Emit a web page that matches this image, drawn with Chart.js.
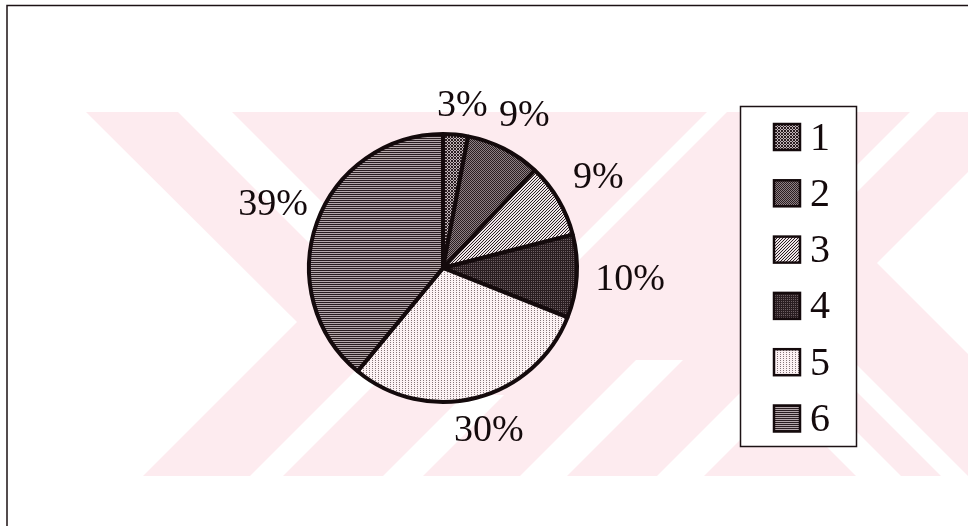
<!DOCTYPE html>
<html><head><meta charset="utf-8">
<script src="https://cdn.jsdelivr.net/npm/chart.js@4/dist/chart.umd.min.js"></script>
<style>html,body{margin:0;padding:0;background:#fff;}#wrap{position:relative;width:968px;height:526px;}</style>
</head><body><div id="wrap"><canvas id="c" width="968" height="526"></canvas></div>
<script>
// ---- data ----
const categories = ['1', '2', '3', '4', '5', '6'];
const shares = [3, 9, 9, 10, 30, 39];
const percentLabels = ['3%', '9%', '9%', '10%', '30%', '39%'];

const FONT = '"Liberation Serif", "Times New Roman", serif';
const INK = '#140a0c';

// ---- fill patterns (scanned greyscale hatches) ----
function makePattern(kind) {
  const s = 6;
  const c = document.createElement('canvas');
  c.width = s; c.height = s;
  const g = c.getContext('2d');
  const bgMap = {1: '#c2b6ba', 2: '#8e8185', 3: '#eee5e8', 4: '#6e6064', 5: '#fcf2f4', 6: '#b4a8ab'};
  g.fillStyle = bgMap[kind];
  g.fillRect(0, 0, s, s);
  for (let x = 0; x < s; x++) {
    for (let y = 0; y < s; y++) {
      let on = false, col = '#2a1e21';
      if (kind === 1) on = ((x + y) % 3 === 0) || ((x - y + 6) % 3 === 0);
      if (kind === 2) on = ((x + y) % 2 === 0);
      if (kind === 3) on = ((x + y) % 3 === 0);
      if (kind === 4) on = (x % 2 === 0) || (y % 2 === 0);
      if (kind === 5) { on = (x % 3 === 0) && (y % 2 === 0); col = '#857679'; }
      if (kind === 6) on = (y % 2 === 0);
      if (on) { g.fillStyle = col; g.fillRect(x, y, 1, 1); }
    }
  }
  return document.getElementById('c').getContext('2d').createPattern(c, 'repeat');
}
const fills = categories.map((_, i) => makePattern(i + 1));

// ---- background: frame + faint watermark ----
const backdrop = {
  id: 'backdrop',
  beforeDraw(chart) {
    const g = chart.ctx;
    g.save();
    g.fillStyle = '#fff';
    g.fillRect(0, 0, chart.width, chart.height);
    const top = 112, bot = 476, left = 86, right = 968;
    g.beginPath(); g.rect(left, top, right - left, bot - top); g.clip();
    g.fillStyle = '#fdebef';
    g.fillRect(left, top, right - left, bot - top);
    g.fillStyle = '#ffffff';
    // left notch
    g.beginPath(); g.moveTo(left, top); g.lineTo(297, 322); g.lineTo(143, bot); g.lineTo(left, bot); g.closePath(); g.fill();
    // right notch
    g.beginPath(); g.moveTo(right, 172); g.lineTo(877, 263); g.lineTo(right, 354); g.closePath(); g.fill();
    // "/" stripes: x + y between c1 and c2, from y0 down to y1
    [[726, 759, 330, bot], [859, 899, 395, bot], [996, 1043, 360, bot], [1133, 1180, 380, bot],
     [819, 839, top, 262], [1022, 1049, top, 200]].forEach(([c1, c2, y0, y1]) => {
      g.beginPath();
      g.moveTo(c1 - y1, y1); g.lineTo(c2 - y1, y1); g.lineTo(c2 - y0, y0); g.lineTo(c1 - y0, y0); g.closePath(); g.fill();
    });
    // "\" stripes: x - y between c1 and c2
    [[66, 120, top, 300], [380, 425, 380, bot], [465, 492, 330, bot]].forEach(([c1, c2, y0, y1]) => {
      g.beginPath();
      g.moveTo(c1 + y0, y0); g.lineTo(c2 + y0, y0); g.lineTo(c2 + y1, y1); g.lineTo(c1 + y1, y1); g.closePath(); g.fill();
    });
    g.restore();
    // frame (top & left edges visible)
    g.save();
    g.strokeStyle = '#1c1214';
    g.lineWidth = 1.5;
    g.beginPath(); g.moveTo(7, 540); g.lineTo(7, 5.5); g.lineTo(980, 5.5); g.stroke();
    g.restore();
  }
};

// ---- percentage labels outside the slices ----
const pctLabels = {
  id: 'pctLabels',
  afterDatasetsDraw(chart) {
    const g = chart.ctx;
    const arcs = chart.getDatasetMeta(0).data;
    g.save();
    g.font = '38px ' + FONT;
    g.fillStyle = INK;
    g.textAlign = 'center';
    g.textBaseline = 'middle';
    arcs.forEach((arc, i) => {
      const p = arc.getProps(['x', 'y', 'startAngle', 'endAngle', 'outerRadius'], true);
      const mid = (p.startAngle + p.endAngle) / 2;
      const txt = percentLabels[i];
      const hw = g.measureText(txt).width / 2, hh = 12;
      const d = p.outerRadius + 14 + Math.abs(Math.cos(mid)) * hw + Math.abs(Math.sin(mid)) * hh;
      g.fillText(txt, p.x + Math.cos(mid) * d + 4, p.y + Math.sin(mid) * d);
    });
    g.restore();
  }
};

// ---- boxed legend ----
const boxLegend = {
  id: 'boxLegend',
  afterDraw(chart) {
    const g = chart.ctx;
    const ds = chart.data.datasets[0];
    const bx = 740, by = 106, bw = 116, bh = 340;
    g.save();
    g.fillStyle = '#fff';
    g.fillRect(bx, by, bw, bh);
    g.strokeStyle = '#1c1214';
    g.lineWidth = 1.5;
    g.strokeRect(bx + 0.5, by + 0.5, bw, bh);
    g.font = '40px ' + FONT;
    g.textBaseline = 'middle';
    g.textAlign = 'left';
    chart.data.labels.forEach((lab, i) => {
      const cy = 137 + i * 56.3;
      const m = 26;
      g.fillStyle = ds.backgroundColor[i];
      g.fillRect(774, cy - m / 2, m, m);
      g.strokeStyle = INK; g.lineWidth = 2.5;
      g.strokeRect(774, cy - m / 2, m, m);
      g.fillStyle = INK;
      g.fillText(lab, 810, cy + 2);
    });
    g.restore();
  }
};

new Chart(document.getElementById('c'), {
  type: 'pie',
  data: {
    labels: categories,
    datasets: [{
      data: shares,
      backgroundColor: fills,
      borderColor: INK,
      borderWidth: 4
    }]
  },
  options: {
    responsive: false,
    devicePixelRatio: 1,
    animation: false,
    layout: { padding: { left: 307, right: 389, top: 132, bottom: 122 } },
    plugins: { legend: { display: false }, tooltip: { enabled: false } }
  },
  plugins: [backdrop, pctLabels, boxLegend]
});
</script>
</body></html>
